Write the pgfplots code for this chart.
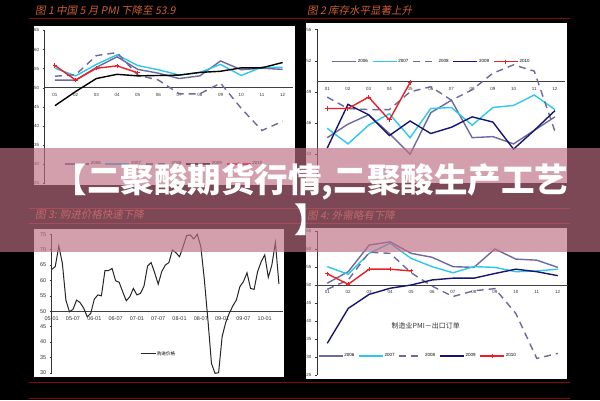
\documentclass[border=0pt]{standalone}
\usepackage{fontspec}
\setmainfont{Liberation Sans}
\newfontfamily\cjk{Noto Sans CJK SC}
\newfontfamily\cjkit[FakeSlant=0.2]{Noto Sans CJK SC}
\usepackage{pgfplots}
\pgfplotsset{compat=1.18}

\definecolor{c06}{RGB}{108,106,158}
\definecolor{c07}{RGB}{45,200,235}
\definecolor{c09}{RGB}{22,22,112}
\definecolor{c10}{RGB}{232,32,38}
\definecolor{ttl}{RGB}{205,95,50}
\definecolor{rl}{RGB}{125,12,12}
\definecolor{band}{RGB}{190,110,132}

\pgfplotsset{
  panel/.style={
    scale only axis, clip=false,
    axis x line=bottom, axis y line=left, axis line style={-},
    x axis line style={draw=none}, y axis line style={black!80, line width=0.5pt},
    xtick style={draw=none}, ytick style={black!80, line width=0.4pt},
    tick align=outside, major tick length=2pt,
    tick label style={font=\fontsize{4.5}{5}\selectfont, text=black!80},
    /pgf/number format/assume math mode=true,
    extra y ticks={50}, extra y tick labels={},
    extra y tick style={grid=major, major grid style={black!75, line width=0.5pt}, tick style={draw=none}},
    legend cell align=left,
    legend style={draw=none, fill=none, font=\fontsize{4.5}{5}\selectfont, legend columns=5,
      nodes={inner xsep=1pt},
      /tikz/every even column/.append style={column sep=3pt}},
    legend image code/.code={\draw[#1, mark repeat=2, mark phase=2] plot coordinates {(0pt,0pt) (12pt,0pt) (24pt,0pt)};},
  },
  months/.style={xmin=0.5, xmax=12.5, xtick={1,...,12},
    xticklabels={01,02,03,04,05,06,07,08,09,10,11,12}},
  s06/.style={c06, line width=1.4pt, no markers},
  s07/.style={c07, line width=1.4pt, no markers},
  s08/.style={c06, line width=1.4pt, no markers, dash pattern=on 7pt off 5pt},
  s09/.style={c09, line width=1.4pt, no markers},
  s10/.style={c10, line width=1.4pt, mark=+, mark size=2.2pt, mark options={solid, line width=1pt}},
}

\begin{document}
\begin{tikzpicture}
\useasboundingbox (0pt,0pt) rectangle (600pt,400pt);
\fill[black] (0pt,0pt) rectangle (600pt,400pt);

% white chart boxes
\fill[white] (34pt,374pt) rectangle (295pt,215pt);
\fill[white] (306pt,377pt) rectangle (567pt,217pt);
\fill[white] (34pt,171pt) rectangle (284pt,23pt);
\fill[white] (306pt,172pt) rectangle (567pt,21pt);

% red rules
\draw[rl, line width=0.6pt] (29pt,382pt) -- (570pt,382pt);
\draw[rl, line width=0.6pt] (29pt,192pt) -- (570pt,192pt);
\draw[rl, line width=0.6pt] (29pt,177pt) -- (570pt,177pt);
\draw[rl, line width=0.6pt] (29pt,18pt) -- (570pt,18pt);
\draw[rl, line width=0.6pt] (29pt,2pt) -- (570pt,2pt);

% titles
\begin{scope}[every node/.style={anchor=west, text=ttl, font=\cjkit\fontsize{10.5}{11}\selectfont, inner sep=0pt}]
\node at (35pt,389pt) {图 1 中国 5 月 PMI 下降至 53.9};
\node at (307pt,389pt) {图 2 库存水平显著上升};
\node at (35pt,185pt) {图 3:  购进价格快速下降};
\node at (307pt,185pt) {图 4:  外需略有下降};
\end{scope}

% ---- chart 1: PMI
\begin{axis}[panel, months, at={(44.6pt,216.8pt)}, anchor=south west,
  width=248.4pt, height=152.8pt, ymin=25, ymax=65, ytick={25,30,...,65},
  xticklabel style={yshift=95.5pt},
  legend style={at={(axis cs:1.3,30)}, anchor=west}]
\addplot[s06] coordinates {(1,52.0)(2,52.0)(3,55.3)(4,58.1)(5,54.8)(6,53.8)(7,52.4)(8,53.1)(9,57.0)(10,54.7)(11,55.1)(12,54.8)};
\addplot[s07] coordinates {(1,55.1)(2,53.1)(3,56.1)(4,58.6)(5,55.8)(6,54.7)(7,53.3)(8,54.0)(9,56.1)(10,53.2)(11,55.4)(12,55.3)};
\addplot[s08] coordinates {(1,53.0)(2,53.4)(3,58.4)(4,59.2)(5,53.3)(6,52.0)(7,48.4)(8,48.4)(9,51.2)(10,44.6)(11,38.8)(12,41.2)};
\addplot[black, line width=1.4pt, no markers] coordinates {(1,45.3)(2,49.0)(3,52.4)(4,53.5)(5,53.1)(6,53.2)(7,53.3)(8,54.0)(9,54.3)(10,55.2)(11,55.2)(12,56.6)};
\addplot[s10] coordinates {(1,55.8)(2,52.0)(3,55.1)(4,55.7)(5,53.9)};
\legend{2006,2007,2008,2009,2010}
\end{axis}

% ---- chart 2: inventory
\begin{axis}[panel, months, at={(316.9pt,214.5pt)}, anchor=south west,
  width=248.4pt, height=156pt, ymin=40, ymax=55, ytick={40,43,...,55},
  xticklabel style={yshift=104pt},
  legend style={at={(axis cs:1.05,51.9)}, anchor=west}]
\addplot[s06] coordinates {(1,44.6)(2,45.9)(3,46.8)(4,45.0)(5,43.0)(6,47.0)(7,48.2)(8,44.6)(9,44.7)(10,44.0)(11,45.3)(12,46.6)};
\addplot[s07] coordinates {(1,45.5)(2,44.0)(3,45.8)(4,46.9)(5,44.6)(6,47.4)(7,47.5)(8,45.8)(9,47.5)(10,47.7)(11,48.7)(12,47.3)};
\addplot[s08] coordinates {(1,48.5)(2,47.4)(3,47.3)(4,47.3)(5,49.0)(6,49.5)(7,48.2)(8,49.2)(9,50.8)(10,51.6)(11,51.0)(12,45.2)};
\addplot[s09] coordinates {(1,43.6)(2,47.8)(3,46.8)(4,44.8)(5,46.2)(6,45.0)(7,45.6)(8,46.6)(9,46.1)(10,43.5)(11,45.3)(12,47.2)};
\addplot[s10] coordinates {(1,47.4)(2,47.4)(3,48.5)(4,46.3)(5,49.9)};
\legend{2006,2007,2008,2009,2010}
\end{axis}

% ---- chart 3: purchase price
\begin{axis}[panel, at={(51.7pt,27.3pt)}, anchor=south west,
  width=230.8pt, height=138.4pt, xmin=0, xmax=65, ymin=30, ymax=75, ytick={30,35,...,75},
  xtick={0,6,...,60}, xticklabels={05-01,05-07,06-01,06-07,07-01,07-07,08-01,08-07,09-01,09-07,10-01},
  tick label style={font=\fontsize{5.5}{6}\selectfont, text=black!80},
  xticklabel style={yshift=61.5pt},
  legend style={at={(axis cs:24,36.1)}, anchor=west, font=\cjk\fontsize{4.5}{5}\selectfont},
  legend image code/.code={\draw[#1] (0pt,0pt) -- (15pt,0pt);}]
\addplot[black!85, line width=1pt, no markers] coordinates {
(0,63.6)(1,64.5)(2,71.2)(3,65.6)(4,53.6)(5,49.8)(6,50.6)(7,53.6)(8,52.8)(9,51.0)
(10,48.2)(11,49.3)(12,53.9)(13,55.3)(14,55.0)(15,63.2)(16,63.2)(17,63.9)(18,59.9)(19,59.4)
(20,56.3)(21,53.4)(22,54.7)(23,57.4)(24,55.3)(25,55.8)(26,58.2)(27,64.7)(28,65.8)(29,62.5)
(30,58.8)(31,62.9)(32,65.0)(33,65.8)(34,69.9)(35,69.0)(36,67.7)(37,71.0)(38,74.6)(39,74.8)
(40,73.5)(41,75.0)(42,71.0)(43,60.1)(44,47.1)(45,33.0)(46,29.8)(47,30.0)(48,41.7)(49,46.3)
(50,49.3)(51,51.7)(52,53.6)(53,58.0)(54,59.6)(55,62.5)(56,57.4)(57,57.1)(58,62.9)(59,66.1)
(60,68.3)(61,61.0)(62,65.0)(63,72.3)(64,58.8)};
\legend{购进价格}
\end{axis}

% ---- chart 4: export orders
\begin{axis}[panel, months, at={(316.8pt,25pt)}, anchor=south west,
  width=251.4pt, height=144pt, ymin=25, ymax=65, ytick={25,30,...,65},
  xticklabel style={yshift=90pt},
  legend style={at={(axis cs:0.4,30.3)}, anchor=west}]
\addplot[s06] coordinates {(1,50.5)(2,53.7)(3,61.1)(4,62.0)(5,58.8)(6,57.7)(7,55.1)(8,54.9)(9,60.0)(10,57.2)(11,56.9)(12,54.9)};
\addplot[s07] coordinates {(1,55.1)(2,53.0)(3,58.8)(4,61.6)(5,57.4)(6,55.1)(7,53.4)(8,55.1)(9,54.9)(10,53.7)(11,53.9)(12,54.4)};
\addplot[s08] coordinates {(1,48.8)(2,51.4)(3,59.1)(4,58.8)(5,53.4)(6,49.7)(7,46.8)(8,48.4)(9,49.0)(10,42.1)(11,29.6)(12,31.0)};
\addplot[s09] coordinates {(1,33.8)(2,43.5)(3,47.4)(4,49.1)(5,50.0)(6,51.4)(7,51.9)(8,51.9)(9,53.2)(10,54.4)(11,53.7)(12,52.6)};
\addplot[s10] coordinates {(1,53.1)(2,50.2)(3,54.4)(4,54.4)(5,53.9)};
\legend{2006,2007,2008,2009,2010}
\node[font=\cjk\fontsize{7}{8}\selectfont, text=black!80] at (axis cs:5.7,38.6) {制造业PMI－出口订单};
\end{axis}

% ---- banner
\fill[band, opacity=0.66] (0pt,148pt) rectangle (600pt,252pt);
\node[align=center, text=white, font=\cjk\bfseries\fontsize{33.5}{40}\selectfont, inner sep=0pt] at (311pt,200pt)
  {【二聚酸期货行情,二聚酸生产工艺\\】};
\end{tikzpicture}
\end{document}
